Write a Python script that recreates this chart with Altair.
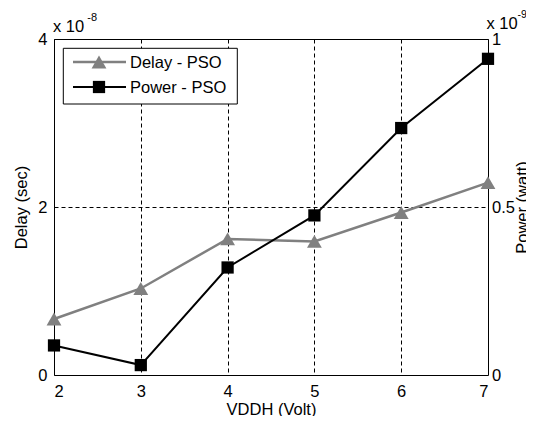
import altair as alt
import pandas as pd

# ---- data ----
vddh = [2, 3, 4, 5, 6, 7]
delay_e8 = [0.667, 1.03, 1.62, 1.59, 1.935, 2.29]      # Delay, x 1e-8 sec
power_e9 = [0.088, 0.0295, 0.32, 0.475, 0.735, 0.941]  # Power, x 1e-9 watt

x_ticks = [2, 3, 4, 5, 6, 7]
delay_ticks = [0, 2, 4]
power_ticks = [0, 0.5, 1]
series_names = ["Delay - PSO", "Power - PSO"]
exp_left = ["x 10", "-8"]
exp_right = ["x 10", "-9"]

FONT = "Liberation Sans"
FS = 16.5
GRAY = "#808080"
W, H = 434, 336

df = pd.DataFrame({"vddh": vddh, "delay": delay_e8, "power": power_e9})
one = pd.DataFrame({"k": [0]})

grid_kw = dict(grid=True, gridDash=[4, 3], gridColor="black", gridOpacity=1, gridWidth=1)

x_enc = alt.X(
    "vddh:Q",
    scale=alt.Scale(domain=[2, 7], nice=False, zero=False),
    axis=alt.Axis(values=x_ticks, title="VDDH (Volt)", labelPadding=8,
                  titleX=W / 2, titleY=39, titleBaseline="alphabetic",
                  titleAlign="center", **grid_kw),
)
y_delay = alt.Y(
    "delay:Q",
    scale=alt.Scale(domain=[0, 4], nice=False),
    axis=alt.Axis(values=delay_ticks, title="Delay (sec)", orient="left",
                  labelPadding=7, titleAngle=270, titleX=-28, titleY=H / 2,
                  titleBaseline="alphabetic", titleAlign="center", **grid_kw),
)
y_power = alt.Y(
    "power:Q",
    scale=alt.Scale(domain=[0, 1], nice=False),
    axis=alt.Axis(values=power_ticks, format="~g", title="Power (watt)",
                  orient="right", grid=False, labelPadding=3.5, titleAngle=270,
                  titleX=39, titleY=H / 2, titleBaseline="alphabetic",
                  titleAlign="center"),
)

base = alt.Chart(df).encode(x=x_enc)
delay_line = base.mark_line(color=GRAY, strokeWidth=2.5).encode(y=y_delay)
delay_pts = base.mark_point(shape="triangle-up", filled=True, color=GRAY,
                            size=220, opacity=1).encode(y=y_delay)
power_line = base.mark_line(color="black", strokeWidth=2).encode(y=y_power)
power_pts = base.mark_point(shape="square", filled=True, color="black",
                            size=150, opacity=1).encode(y=y_power)

# ---- legend (decoration) ----
leg_box = alt.Chart(one).mark_rect(fill="white", stroke="black", strokeWidth=1).encode(
    x=alt.value(9.3), x2=alt.value(183.3), y=alt.value(9.3), y2=alt.value(65))
leg_l1 = alt.Chart(one).mark_rule(color=GRAY, strokeWidth=2.5).encode(
    x=alt.value(19), x2=alt.value(72), y=alt.value(23))
leg_p1 = alt.Chart(one).mark_point(shape="triangle-up", filled=True, color=GRAY,
                                   size=220, opacity=1).encode(x=alt.value(45), y=alt.value(23))
leg_t1 = alt.Chart(one).mark_text(text=series_names[0], align="left", baseline="middle",
                                  font=FONT, fontSize=FS, color="black").encode(
    x=alt.value(76), y=alt.value(24))
leg_l2 = alt.Chart(one).mark_rule(color="black", strokeWidth=2).encode(
    x=alt.value(19), x2=alt.value(72), y=alt.value(48))
leg_p2 = alt.Chart(one).mark_point(shape="square", filled=True, color="black",
                                   size=150, opacity=1).encode(x=alt.value(45), y=alt.value(48))
leg_t2 = alt.Chart(one).mark_text(text=series_names[1], align="left", baseline="middle",
                                  font=FONT, fontSize=FS, color="black").encode(
    x=alt.value(76), y=alt.value(49))

# ---- axis exponent annotations ----
def txt(s, x, y, fs):
    return alt.Chart(one).mark_text(text=s, align="left", baseline="alphabetic",
                                    font=FONT, fontSize=fs, color="black").encode(
        x=alt.value(x), y=alt.value(y))

ex1 = txt(exp_left[0], -1, -7.3, FS)
ex2 = txt(exp_left[1], 33.3, -18.3, 11)
ex3 = txt(exp_right[0], W - 1.5, -10, FS)
ex4 = txt(exp_right[1], W + 29.5, -21, 10.5)

chart = alt.layer(
    alt.layer(delay_line, delay_pts),
    alt.layer(power_line, power_pts),
    leg_box, leg_l1, leg_p1, leg_t1, leg_l2, leg_p2, leg_t2,
    ex1, ex2, ex3, ex4,
).resolve_scale(y="independent").properties(
    width=W, height=H,
    padding={"left": 46, "top": 31, "right": 518 - 46 - W, "bottom": 408 - 31 - H},
    autosize=alt.AutoSizeParams(type="none"),
).configure_view(stroke="black", strokeWidth=1).configure_axis(
    labelFont=FONT, titleFont=FONT, labelFontSize=FS, titleFontSize=FS,
    titleFontWeight="normal", labelColor="black", titleColor="black",
    domain=False, ticks=False, tickSize=0,
)

chart.save("out.html", embed_options={"renderer": "svg", "actions": False})
